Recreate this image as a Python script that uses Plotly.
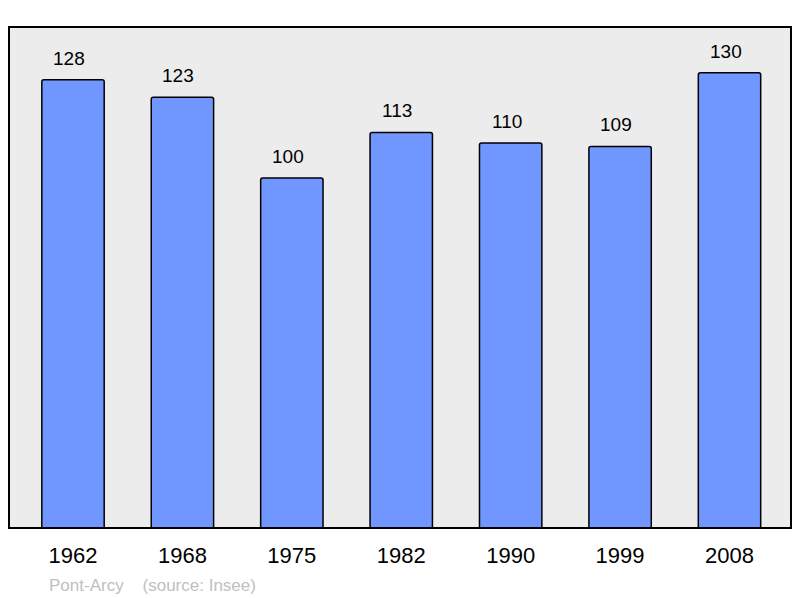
import plotly.graph_objects as go

years = ["1962", "1968", "1975", "1982", "1990", "1999", "2008"]
population = [128, 123, 100, 113, 110, 109, 130]
source_label = "Pont-Arcy    (source: Insee)"

FONT = "Liberation Sans, Arial, sans-serif"

fig = go.Figure()
fig.add_trace(go.Bar(
    x=years, y=population,
    marker=dict(color="#7096ff", line=dict(color="black", width=1.5), cornerradius=2),
    width=0.57,
    hoverinfo="x+y",
))

for i, v in enumerate(population):
    fig.add_annotation(x=i, y=v, text=str(v), showarrow=False,
                       yanchor="bottom", yshift=9, xshift=-4,
                       font=dict(family=FONT, size=19, color="black"))

fig.add_annotation(xref="paper", yref="paper", x=0.048, y=-0.115, xanchor="left",
                   yanchor="middle", text=source_label.replace(" ", "&nbsp;"), showarrow=False,
                   font=dict(family=FONT, size=17, color="#c0c0c0"))

fig.add_shape(type="rect", xref="x domain", yref="y domain", x0=0, x1=1, y0=0, y1=1,
              line=dict(color="black", width=2), layer="above")

fig.update_layout(
    width=800, height=598,
    margin=dict(l=9, r=9, t=27, b=70),
    paper_bgcolor="white", plot_bgcolor="#ececec",
    showlegend=False,
    xaxis=dict(type="category", range=[-0.585, 6.562], showgrid=False, zeroline=False,
               ticks="outside", ticklen=8, tickcolor="rgba(0,0,0,0)",
               tickfont=dict(family=FONT, size=22, color="black"), fixedrange=True),
    yaxis=dict(range=[0, 143.1], showgrid=False, zeroline=False, showticklabels=False,
               fixedrange=True),
)

fig.write_html("out.html", config={"displayModeBar": False},
               post_script="document.body.style.margin='0';document.body.style.overflow='hidden';")
